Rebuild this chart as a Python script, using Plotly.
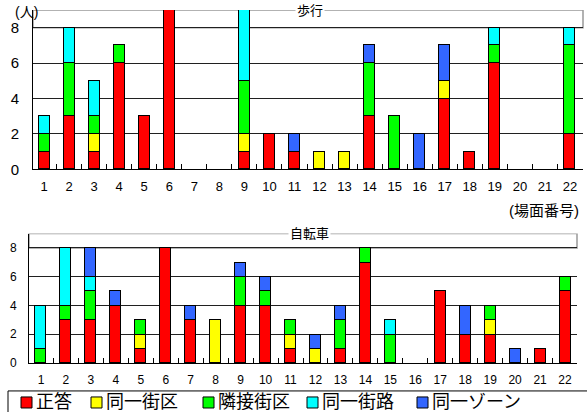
import plotly.graph_objects as go

scenes = list(range(1, 23))
series_names = ["正答", "同一街区", "隣接街区", "同一街路", "同一ゾーン"]
colors = ["#FF0000", "#FFFF00", "#00FF00", "#00FFFF", "#3366FF"]

# 歩行 (walking)
walk_correct  = [1, 3, 1, 6, 3, 9, 0, 0, 1, 2, 1, 0, 0, 3, 0, 0, 4, 1, 6, 0, 0, 2]
walk_block    = [0, 0, 1, 0, 0, 0, 0, 0, 1, 0, 0, 1, 1, 0, 0, 0, 1, 0, 0, 0, 0, 0]
walk_adjacent = [1, 3, 1, 1, 0, 0, 0, 0, 3, 0, 0, 0, 0, 3, 3, 0, 0, 0, 1, 0, 0, 5]
walk_street   = [1, 2, 2, 0, 0, 0, 0, 0, 4, 0, 0, 0, 0, 0, 0, 0, 0, 0, 1, 0, 0, 1]
walk_zone     = [0, 0, 0, 0, 0, 0, 0, 0, 0, 0, 1, 0, 0, 1, 0, 2, 2, 0, 0, 0, 0, 0]

# 自転車 (bicycle)
bike_correct  = [0, 3, 3, 4, 1, 8, 3, 0, 4, 4, 1, 0, 1, 7, 0, 0, 5, 2, 2, 0, 1, 5]
bike_block    = [0, 0, 0, 0, 1, 0, 0, 3, 0, 0, 1, 1, 0, 0, 0, 0, 0, 0, 1, 0, 0, 0]
bike_adjacent = [1, 1, 2, 0, 1, 0, 0, 0, 2, 1, 1, 0, 2, 1, 2, 0, 0, 0, 1, 0, 0, 1]
bike_street   = [3, 4, 1, 0, 0, 0, 0, 0, 0, 0, 0, 0, 0, 0, 1, 0, 0, 0, 0, 0, 0, 0]
bike_zone     = [0, 0, 2, 1, 0, 0, 1, 0, 1, 1, 0, 1, 1, 0, 0, 0, 0, 2, 0, 1, 0, 0]

y_ticks = [0, 2, 4, 6, 8]

walk_series = [walk_correct, walk_block, walk_adjacent, walk_street, walk_zone]
bike_series = [bike_correct, bike_block, bike_adjacent, bike_street, bike_zone]

W, H = 587, 412          # target picture size (positions below are in these pixels)
RENDER_H = 421           # rendered height (compensates the viewer's vertical squeeze)
def px(x):
    return x / W
def py(y):
    return 1 - y / H

FONT = "Liberation Sans, Arial, Noto Sans CJK JP, sans-serif"

fig = go.Figure()
for series, xa, ya in [(walk_series, "x", "y"), (bike_series, "x2", "y2")]:
    for vals, name, col in zip(series, series_names, colors):
        fig.add_trace(go.Bar(x=scenes, y=[v if v else None for v in vals], name=name,
                             marker=dict(color=col, line=dict(color="black", width=1)),
                             width=0.44, xaxis=xa, yaxis=ya, showlegend=False, hoverinfo="skip"))

# invisible helper traces so the label axes are drawn
for xa, ya in [("x3", "y"), ("x4", "y2")]:
    fig.add_trace(go.Scatter(x=scenes, y=[0] * len(scenes), mode="markers", marker=dict(opacity=0),
                             xaxis=xa, yaxis=ya, showlegend=False, hoverinfo="skip"))

between = [s + 0.5 for s in scenes]

def xaxis_ticks(domain, rng, anchor):
    # axis line with tick marks between the scenes
    return dict(domain=domain, range=rng, tickmode="array", tickvals=between, ticktext=["" for _ in between],
                ticks="inside", ticklen=5, tickcolor="black", tickwidth=1,
                showline=True, linecolor="black", linewidth=1, showgrid=False, zeroline=False, anchor=anchor)

def xaxis_labels(overlay, rng, size, anchor, standoff):
    return dict(overlaying=overlay, range=rng, tickmode="array", tickvals=scenes,
                ticktext=[str(s) for s in scenes], ticks="", showline=False, showgrid=False,
                zeroline=False, anchor=anchor, side="bottom", ticklabelstandoff=standoff,
                tickfont=dict(family=FONT, size=size, color="black"))

def yaxis_cfg(domain, size, anchor, standoff):
    return dict(domain=domain, range=[0, 9], tickmode="array", tickvals=y_ticks, ticks="",
                showline=True, linecolor="black", linewidth=1, showgrid=True, gridcolor="#202020",
                gridwidth=1, zeroline=False, anchor=anchor, ticklabelstandoff=standoff,
                tickfont=dict(family=FONT, size=size, color="black"))

rng1 = [0.56, 22.52]
rng2 = [0.52, 22.48]
fig.update_layout(
    width=W, height=RENDER_H, margin=dict(l=0, r=0, t=0, b=0),
    paper_bgcolor="white", plot_bgcolor="white", barmode="stack", bargap=0,
    xaxis=xaxis_ticks([px(33), px(583)], rng1, "y"),
    yaxis=yaxis_cfg([py(169), py(10)], 15, "x", 10),
    xaxis2=xaxis_ticks([px(29), px(577)], rng2, "y2"),
    yaxis2=yaxis_cfg([py(362), py(233)], 12, "x2", 9),
    xaxis3=xaxis_labels("x", rng1, 13, "y", 8),
    xaxis4=xaxis_labels("x2", rng2, 12, "y2", 8),
)

# title boxes (grey band between 8 and 9)
for xr, yr in [("x domain", "y"), ("x2 domain", "y2")]:
    fig.add_shape(type="rect", xref=xr, yref=yr, x0=0, x1=1, y0=8, y1=9,
                  line=dict(color="#999999", width=1.5), fillcolor="rgba(0,0,0,0)", layer="below")

annotations = [
    dict(text="歩行", x=px(310), y=py(10), size=13, bg="white"),
    dict(text="自転車", x=px(309), y=py(233), size=13, bg="white"),
    dict(text="(人)", x=px(26), y=py(12), size=14, bg=None),
    dict(text="(場面番号)", x=px(544), y=py(210), size=15, bg=None),
]
for a in annotations:
    fig.add_annotation(text=a["text"], x=a["x"], y=a["y"], xref="paper", yref="paper", showarrow=False,
                       xanchor="center", yanchor="middle",
                       font=dict(family=FONT, size=a["size"], color="black"),
                       bgcolor=a["bg"] if a["bg"] else "rgba(0,0,0,0)", borderpad=1)

# custom legend (box open to the right/bottom edge, as in the reference)
fig.add_shape(type="path", xref="paper", yref="paper",
              path=f"M {px(8)},0 L {px(8)},{py(390)} L 1,{py(390)}",
              line=dict(color="black", width=1))
sq_left = [21, 91, 203, 307, 417]
for name, col, sx in zip(series_names, colors, sq_left):
    fig.add_shape(type="rect", xref="paper", yref="paper", x0=px(sx), x1=px(sx + 11), y0=py(407), y1=py(396),
                  line=dict(color="black", width=1), fillcolor=col)
    fig.add_annotation(text=name, x=px(sx + 13), y=py(401), xref="paper", yref="paper", showarrow=False,
                       xanchor="left", yanchor="middle", font=dict(family=FONT, size=18, color="black"))

fig.write_html("out.html", config={"displayModeBar": False},
               post_script="document.body.style.margin='0';")
